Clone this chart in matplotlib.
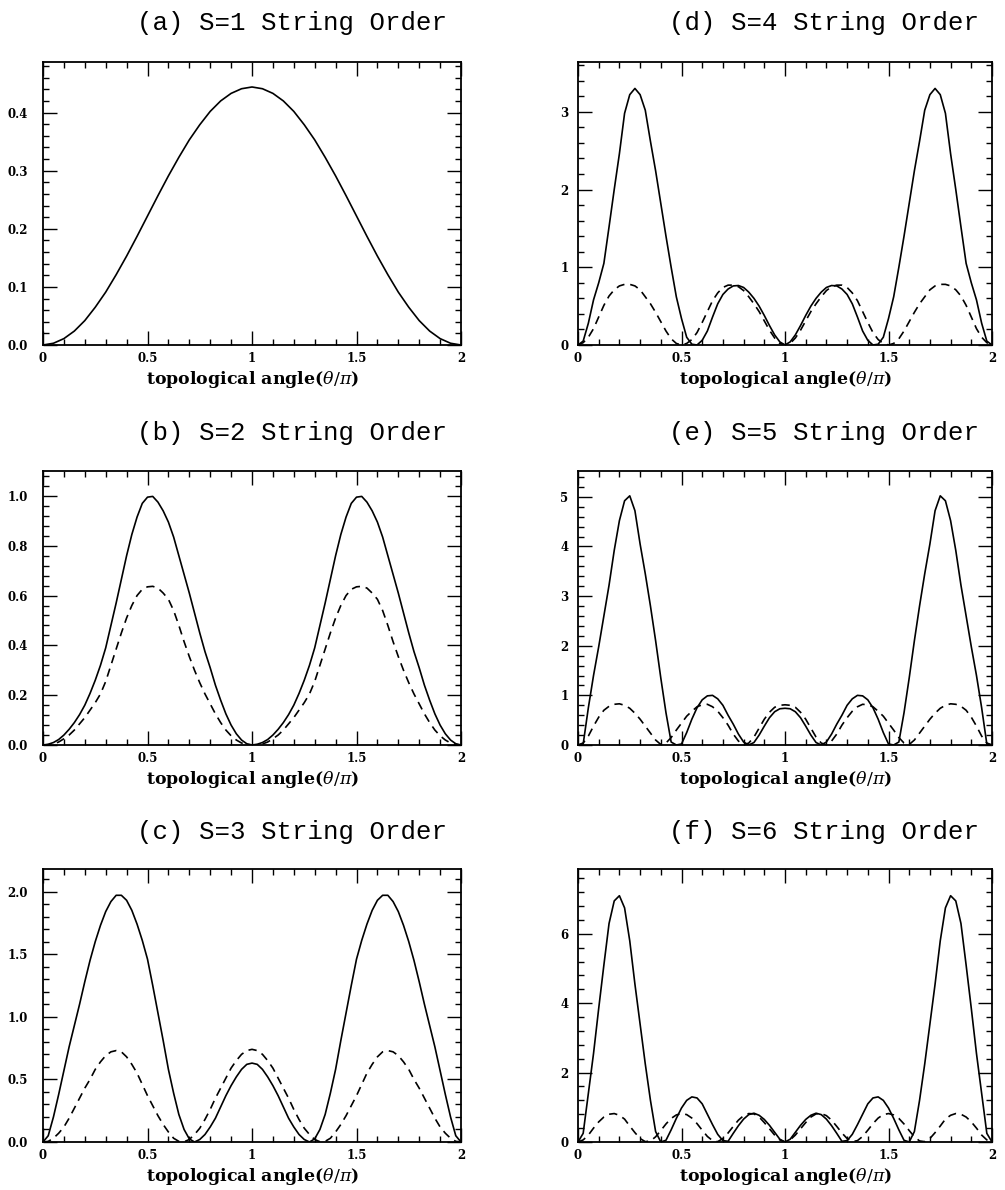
import numpy as np
import matplotlib
matplotlib.use("Agg")
import matplotlib.pyplot as plt
from matplotlib.ticker import MultipleLocator, FixedLocator

plt.rcParams['mathtext.fontset'] = 'dejavuserif'

theta_coarse = np.linspace(0, 2, 41)   # panel a, every 0.05
theta_fine = np.linspace(0, 2, 81)     # panels b-f, every 0.025

# (a) S=1
a_solid = [0, 0.003, 0.011, 0.024, 0.042, 0.065, 0.091, 0.121, 0.153, 0.187, 0.222,
           0.257, 0.291, 0.323, 0.353, 0.379, 0.402, 0.420, 0.433, 0.441, 0.444,
           0.441, 0.433, 0.420, 0.402, 0.379, 0.353, 0.323, 0.291, 0.257, 0.222,
           0.187, 0.153, 0.121, 0.091, 0.065, 0.042, 0.024, 0.011, 0.003, 0]

# (b) S=2
b_solid = [0, 0.003, 0.01, 0.022, 0.04, 0.063, 0.09, 0.122, 0.16, 0.207, 0.26,
           0.32, 0.39, 0.48, 0.57, 0.665, 0.76, 0.845, 0.915, 0.97, 0.995,
           0.998, 0.975, 0.94, 0.895, 0.835, 0.76, 0.685, 0.61, 0.53, 0.45,
           0.375, 0.31, 0.24, 0.18, 0.125, 0.08, 0.045, 0.02, 0.005, 0,
           0.003, 0.01, 0.022, 0.04, 0.063, 0.09, 0.122, 0.16, 0.207, 0.26,
           0.32, 0.39, 0.48, 0.57, 0.665, 0.76, 0.845, 0.915, 0.97, 0.995,
           0.998, 0.975, 0.94, 0.895, 0.835, 0.76, 0.685, 0.61, 0.53, 0.45,
           0.375, 0.31, 0.24, 0.18, 0.125, 0.08, 0.045, 0.02, 0.005, 0]
b_dashed = [0, 0.001, 0.004, 0.012, 0.025, 0.04, 0.06, 0.085, 0.11, 0.14, 0.17,
            0.205, 0.255, 0.32, 0.385, 0.45, 0.51, 0.56, 0.60, 0.625, 0.635,
            0.637, 0.63, 0.61, 0.585, 0.54, 0.48, 0.415, 0.355, 0.30, 0.25,
            0.205, 0.165, 0.125, 0.09, 0.06, 0.037, 0.02, 0.008, 0.002, 0,
            0.001, 0.004, 0.012, 0.025, 0.04, 0.06, 0.085, 0.11, 0.14, 0.17,
            0.205, 0.255, 0.32, 0.385, 0.45, 0.51, 0.56, 0.60, 0.625, 0.635,
            0.637, 0.63, 0.61, 0.585, 0.54, 0.48, 0.415, 0.355, 0.30, 0.25,
            0.205, 0.165, 0.125, 0.09, 0.06, 0.037, 0.02, 0.008, 0.002, 0]

# (c) S=3
c_solid = [0, 0.05, 0.20, 0.38, 0.57, 0.76, 0.93, 1.10, 1.28, 1.45, 1.60,
           1.73, 1.84, 1.92, 1.97, 1.97, 1.93, 1.85, 1.74, 1.61, 1.46,
           1.25, 1.03, 0.81, 0.58, 0.39, 0.22, 0.10, 0.025, 0.0, 0.02,
           0.06, 0.12, 0.19, 0.28, 0.37, 0.45, 0.52, 0.58, 0.62, 0.63,
           0.62, 0.58, 0.52, 0.45, 0.37, 0.28, 0.19, 0.12, 0.06, 0.02,
           0.0, 0.025, 0.10, 0.22, 0.39, 0.58, 0.81, 1.03, 1.25, 1.46,
           1.61, 1.74, 1.85, 1.93, 1.97, 1.97, 1.92, 1.84, 1.73, 1.60,
           1.45, 1.28, 1.10, 0.93, 0.76, 0.57, 0.38, 0.20, 0.05, 0]
c_dashed = [0, 0.005, 0.03, 0.07, 0.12, 0.19, 0.27, 0.35, 0.43, 0.50, 0.58,
            0.64, 0.69, 0.72, 0.73, 0.72, 0.68, 0.62, 0.55, 0.46, 0.37,
            0.29, 0.21, 0.14, 0.08, 0.03, 0.005, 0.002, 0.02, 0.06, 0.11,
            0.18, 0.26, 0.35, 0.43, 0.51, 0.59, 0.65, 0.70, 0.73, 0.74,
            0.73, 0.70, 0.65, 0.59, 0.51, 0.43, 0.35, 0.26, 0.18, 0.11,
            0.06, 0.02, 0.002, 0.005, 0.03, 0.08, 0.14, 0.21, 0.29, 0.37,
            0.46, 0.55, 0.62, 0.68, 0.72, 0.73, 0.72, 0.69, 0.64, 0.58,
            0.50, 0.43, 0.35, 0.27, 0.19, 0.12, 0.07, 0.03, 0.005, 0]

# (d) S=4
d_solid = [0.0, 0.05, 0.28, 0.58, 0.80, 1.05, 1.52, 2.00, 2.46, 2.98, 3.22,
           3.30, 3.22, 3.02, 2.62, 2.24, 1.82, 1.40, 1.00, 0.62, 0.34,
           0.10, 0.01, 0.0, 0.06, 0.18, 0.36, 0.53, 0.65, 0.72, 0.76,
           0.765, 0.74, 0.68, 0.60, 0.50, 0.38, 0.25, 0.13, 0.04, 0.0,
           0.04, 0.13, 0.25, 0.38, 0.50, 0.60, 0.68, 0.74, 0.765, 0.76,
           0.72, 0.65, 0.53, 0.36, 0.18, 0.06, 0.0, 0.01, 0.10, 0.34,
           0.62, 1.00, 1.40, 1.82, 2.24, 2.62, 3.02, 3.22, 3.30, 3.22,
           2.98, 2.46, 2.00, 1.52, 1.05, 0.80, 0.58, 0.28, 0.05, 0.0]
d_dashed = [0.0, 0.03, 0.10, 0.21, 0.36, 0.51, 0.63, 0.71, 0.76, 0.78, 0.78,
            0.76, 0.71, 0.62, 0.53, 0.42, 0.30, 0.18, 0.08, 0.02, 0.0,
            0.02, 0.07, 0.16, 0.29, 0.43, 0.57, 0.67, 0.74, 0.77, 0.77,
            0.75, 0.70, 0.62, 0.53, 0.43, 0.31, 0.19, 0.09, 0.02, 0.0,
            0.02, 0.09, 0.19, 0.31, 0.43, 0.53, 0.62, 0.70, 0.75, 0.77,
            0.77, 0.74, 0.67, 0.57, 0.43, 0.29, 0.16, 0.07, 0.02, 0.0,
            0.02, 0.08, 0.18, 0.30, 0.42, 0.53, 0.62, 0.71, 0.76, 0.78,
            0.78, 0.76, 0.71, 0.63, 0.51, 0.36, 0.21, 0.10, 0.03, 0.0]

# (e) S=5
e_solid = [0.0, 0.02, 0.75, 1.40, 1.98, 2.60, 3.22, 3.92, 4.52, 4.92, 5.02,
           4.72, 4.05, 3.45, 2.80, 2.10, 1.35, 0.65, 0.06, 0.0, 0.02,
           0.25, 0.52, 0.75, 0.91, 0.99, 1.00, 0.93, 0.80, 0.60, 0.42,
           0.22, 0.06, 0.0, 0.05, 0.20, 0.38, 0.55, 0.67, 0.73, 0.74,
           0.73, 0.67, 0.55, 0.38, 0.20, 0.05, 0.0, 0.06, 0.22, 0.42,
           0.60, 0.80, 0.93, 1.00, 0.99, 0.91, 0.75, 0.52, 0.25, 0.02,
           0.0, 0.06, 0.65, 1.35, 2.10, 2.80, 3.45, 4.05, 4.72, 5.02,
           4.92, 4.52, 3.92, 3.22, 2.60, 1.98, 1.40, 0.75, 0.02, 0.0]
e_dashed = [0.0, 0.04, 0.18, 0.38, 0.56, 0.70, 0.78, 0.82, 0.83, 0.80, 0.74,
            0.64, 0.52, 0.38, 0.24, 0.10, 0.01, 0.04, 0.15, 0.30, 0.44,
            0.58, 0.68, 0.77, 0.81, 0.82, 0.77, 0.68, 0.55, 0.40, 0.22,
            0.08, 0.0, 0.04, 0.16, 0.34, 0.52, 0.66, 0.76, 0.80, 0.81,
            0.80, 0.76, 0.66, 0.52, 0.34, 0.16, 0.04, 0.0, 0.08, 0.22,
            0.40, 0.55, 0.68, 0.77, 0.82, 0.81, 0.77, 0.68, 0.58, 0.44,
            0.30, 0.15, 0.04, 0.01, 0.10, 0.24, 0.38, 0.52, 0.64, 0.74,
            0.80, 0.83, 0.82, 0.78, 0.70, 0.56, 0.38, 0.18, 0.04, 0.0]

# (f) S=6
f_solid = [0.0, 0.25, 1.40, 2.55, 3.85, 5.10, 6.30, 6.95, 7.10, 6.75, 5.80,
           4.55, 3.40, 2.25, 1.20, 0.30, 0.0, 0.05, 0.35, 0.68, 0.98,
           1.20, 1.30, 1.27, 1.10, 0.80, 0.50, 0.22, 0.04, 0.02, 0.25,
           0.47, 0.66, 0.79, 0.83, 0.77, 0.65, 0.48, 0.28, 0.08, 0.0,
           0.08, 0.28, 0.48, 0.65, 0.77, 0.83, 0.79, 0.66, 0.47, 0.25,
           0.02, 0.04, 0.22, 0.50, 0.80, 1.10, 1.27, 1.30, 1.20, 0.98,
           0.68, 0.35, 0.05, 0.0, 0.30, 1.20, 2.25, 3.40, 4.55, 5.80,
           6.75, 7.10, 6.95, 6.30, 5.10, 3.85, 2.55, 1.40, 0.25, 0.0]
f_dashed = [0.0, 0.06, 0.20, 0.40, 0.58, 0.72, 0.80, 0.82, 0.77, 0.66, 0.46,
            0.27, 0.10, 0.01, 0.03, 0.15, 0.33, 0.52, 0.68, 0.78, 0.82,
            0.79, 0.69, 0.53, 0.34, 0.16, 0.04, 0.01, 0.10, 0.26, 0.45,
            0.63, 0.76, 0.82, 0.81, 0.72, 0.56, 0.38, 0.20, 0.06, 0.0,
            0.06, 0.20, 0.38, 0.56, 0.72, 0.81, 0.82, 0.76, 0.63, 0.45,
            0.26, 0.10, 0.01, 0.04, 0.16, 0.34, 0.53, 0.69, 0.79, 0.82,
            0.78, 0.68, 0.52, 0.33, 0.15, 0.03, 0.01, 0.10, 0.27, 0.46,
            0.66, 0.77, 0.82, 0.80, 0.72, 0.58, 0.40, 0.20, 0.06, 0.0]

titles = ["(a) S=1 String Order", "(b) S=2 String Order", "(c) S=3 String Order",
          "(d) S=4 String Order", "(e) S=5 String Order", "(f) S=6 String Order"]
xlabel = r"topological angle($\theta/\pi$)"
x_ticks = [0, 0.5, 1, 1.5, 2]
x_ticklabels = ["0", "0.5", "1", "1.5", "2"]

y_ticks = [[0, 0.1, 0.2, 0.3, 0.4], [0, 0.2, 0.4, 0.6, 0.8, 1.0], [0, 0.5, 1.0, 1.5, 2.0],
           [0, 1, 2, 3], [0, 1, 2, 3, 4, 5], [0, 2, 4, 6]]
y_ticklabels = [["0.0", "0.1", "0.2", "0.3", "0.4"],
                ["0.0", "0.2", "0.4", "0.6", "0.8", "1.0"],
                ["0.0", "0.5", "1.0", "1.5", "2.0"],
                ["0", "1", "2", "3"], ["0", "1", "2", "3", "4", "5"], ["0", "2", "4", "6"]]
y_minor = [0.02, 0.04, 0.1, 0.2, 0.2, 0.4]
y_top = [0.487, 1.1, 2.18, 3.64, 5.52, 7.87]

curves = [(theta_coarse, a_solid, None), (theta_fine, b_solid, b_dashed),
          (theta_fine, c_solid, c_dashed), (theta_fine, d_solid, d_dashed),
          (theta_fine, e_solid, e_dashed), (theta_fine, f_solid, f_dashed)]

W, H = 1005, 1190
fig = plt.figure(figsize=(W / 100, H / 100), dpi=100)

# axes boxes in pixels: left, right, top, bottom
cols = [(43, 461), (578, 992)]
rows = [(62, 345), (471, 745), (869, 1142)]

tickfont = dict(family='DejaVu Serif', weight='bold', size=8.5)

for i in range(6):
    c, r = divmod(i, 3)
    l, rr = cols[c]
    t, b = rows[r]
    ax = fig.add_axes([l / W, 1 - b / H, (rr - l) / W, (b - t) / H])
    x, solid, dashed = curves[i]
    ax.plot(x, solid, color='black', lw=1.2)
    if dashed is not None:
        ax.plot(x, dashed, color='black', lw=1.2, dashes=(5, 3.5))
    ax.set_xlim(0, 2)
    ax.set_ylim(0, y_top[i])
    ax.xaxis.set_major_locator(FixedLocator(x_ticks))
    ax.set_xticklabels(x_ticklabels, **tickfont)
    ax.xaxis.set_minor_locator(MultipleLocator(0.1))
    ax.yaxis.set_major_locator(FixedLocator(y_ticks[i]))
    ax.set_yticklabels(y_ticklabels[i], **tickfont)
    ax.yaxis.set_minor_locator(MultipleLocator(y_minor[i]))
    ax.tick_params(which='both', direction='in', top=True, right=True, width=1.0)
    ax.tick_params(which='major', length=10)
    ax.tick_params(which='minor', length=4)
    ax.tick_params(axis='x', pad=5)
    ax.tick_params(axis='y', pad=11 if c == 0 else 7)
    for sp in ax.spines.values():
        sp.set_linewidth(1.3)
    ax.set_xlabel(xlabel, family='DejaVu Serif', weight='bold', size=12.5, labelpad=3)
    ax.text(0.595, 1.137, titles[i], transform=ax.transAxes, ha='center', va='center',
            family='Liberation Mono', size=18.5)

fig.savefig("out.png", dpi=100)
